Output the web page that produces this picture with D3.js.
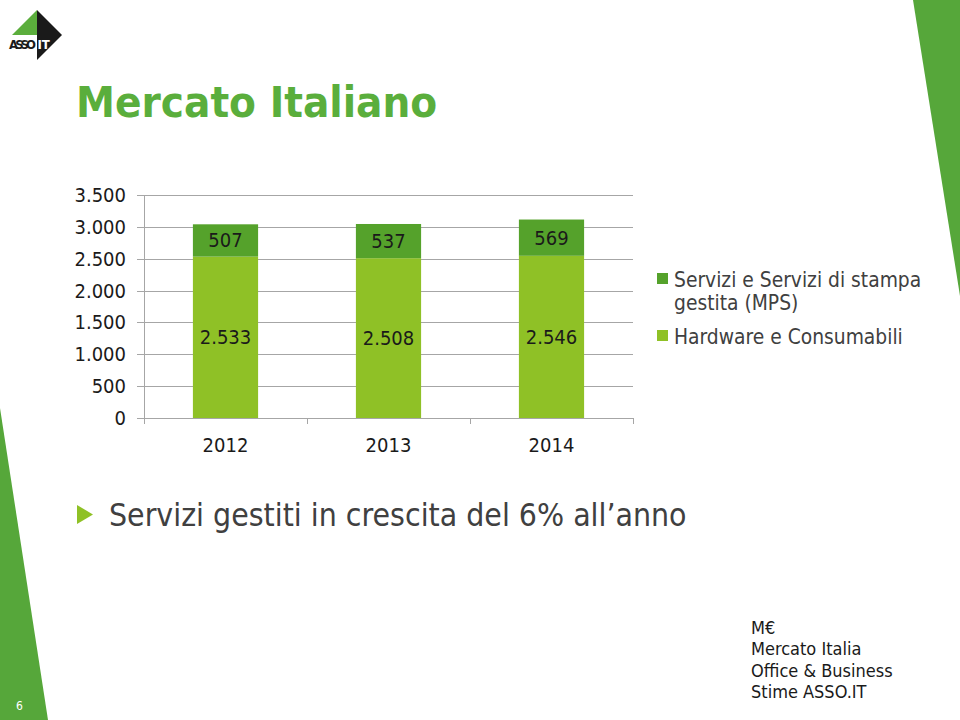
<!DOCTYPE html>
<html>
<head>
<meta charset="utf-8">
<script src="https://cdn.jsdelivr.net/npm/d3@7"></script>
<style>
  html, body { margin: 0; padding: 0; background: #fff; }
  svg { display: block; }
  text { font-family: "DejaVu Sans", sans-serif; font-stretch: condensed; }
</style>
</head>
<body>
<svg id="slide" width="960" height="720"></svg>
<script>
// ---- data ----
const years = ["2012", "2013", "2014"];
const hardware = [2533, 2508, 2546];   // Hardware e Consumabili
const services = [507, 537, 569];      // Servizi e Servizi di stampa gestita (MPS)
const yTicks = [0, 500, 1000, 1500, 2000, 2500, 3000, 3500];
const seriesNames = ["Servizi e Servizi di stampa gestita (MPS)", "Hardware e Consumabili"];
const footnote = ["M€", "Mercato Italia", "Office & Business", "Stime ASSO.IT"];

const colDark = "#55A22B";
const colLight = "#8FC126";
const green = "#5AAE3C";

const svg = d3.select("#slide");
const fmt = v => d3.format(",")(v).replace(/,/g, ".");

// ---- decorations ----
svg.append("polygon").attr("points", "913,0 960,0 960,296").attr("fill", "#56A73A");
svg.append("polygon").attr("points", "0,408 48,720 0,720").attr("fill", "#56A73A");
svg.append("text").attr("x", 16).attr("y", 710).attr("fill", "#fff")
  .style("font-size", "12px").text("6");

// logo
const logo = svg.append("g");
logo.append("polygon").attr("points", "12,35 37,10 37,35").attr("fill", "#5BAE3C");
logo.append("polygon").attr("points", "37,10 62,35 37,60").attr("fill", "#1a1a1a");
logo.append("text").attr("x", 9).attr("y", 49).attr("fill", "#1a1a1a")
  .style("font-size", "13px").style("font-weight", "bold").attr("textLength", 27).text("ASSO");
logo.append("text").attr("x", 37.5).attr("y", 49).attr("fill", "#fff")
  .style("font-size", "13px").style("font-weight", "bold").text("IT");

// title
svg.append("text").attr("x", 76).attr("y", 117).attr("fill", green)
  .style("font-size", "43.5px").style("font-weight", "bold").text("Mercato Italiano");

// ---- chart ----
const x = d3.scaleBand().domain(years).range([144, 633]).padding(0);
const y = d3.scaleLinear().domain([0, 3500]).range([418, 195]);
const barW = x.bandwidth() * 0.4;

const grid = svg.append("g");
grid.selectAll("line").data(yTicks).join("line")
  .attr("x1", 137).attr("x2", 633)
  .attr("y1", d => Math.round(y(d)) + 0.5).attr("y2", d => Math.round(y(d)) + 0.5)
  .attr("stroke", "#A6A6A6").attr("stroke-width", 1);

svg.append("line").attr("x1", 144.5).attr("x2", 144.5).attr("y1", 195).attr("y2", 424)
  .attr("stroke", "#A6A6A6");
const bounds = years.map(d => x(d)).concat([x(years[2]) + x.bandwidth()]);
svg.append("g").selectAll("line").data(bounds.slice(1)).join("line")
  .attr("x1", d => Math.round(d) + 0.5).attr("x2", d => Math.round(d) + 0.5)
  .attr("y1", 418).attr("y2", 424).attr("stroke", "#A6A6A6");

svg.append("g").selectAll("text").data(yTicks).join("text")
  .attr("x", 126).attr("y", d => y(d) + 7).attr("text-anchor", "end")
  .attr("fill", "#1a1a1a").style("font-size", "20px").text(d => fmt(d));

svg.append("g").selectAll("text").data(years).join("text")
  .attr("x", d => x(d) + x.bandwidth() / 2).attr("y", 452).attr("text-anchor", "middle")
  .attr("fill", "#1a1a1a").style("font-size", "20px").text(d => d);

const bars = svg.append("g");
years.forEach((yr, i) => {
  const cx = x(yr) + x.bandwidth() / 2;
  bars.append("rect").attr("x", cx - barW / 2).attr("width", barW)
    .attr("y", y(hardware[i])).attr("height", y(0) - y(hardware[i])).attr("fill", colLight);
  bars.append("rect").attr("x", cx - barW / 2).attr("width", barW)
    .attr("y", y(hardware[i] + services[i])).attr("height", y(0) - y(services[i])).attr("fill", colDark);
  bars.append("text").attr("x", cx).attr("y", y(hardware[i] / 2) + 7).attr("text-anchor", "middle")
    .attr("fill", "#1a1a1a").style("font-size", "20px").text(fmt(hardware[i]));
  bars.append("text").attr("x", cx).attr("y", y(hardware[i] + services[i] / 2) + 7).attr("text-anchor", "middle")
    .attr("fill", "#1a1a1a").style("font-size", "20px").text(fmt(services[i]));
});

// legend
const leg = svg.append("g");
leg.append("rect").attr("x", 657).attr("y", 273).attr("width", 11).attr("height", 11).attr("fill", colDark);
leg.append("text").attr("x", 674).attr("y", 287).attr("fill", "#404040").style("font-size", "20.8px").text("Servizi e Servizi di stampa");
leg.append("text").attr("x", 674).attr("y", 310).attr("fill", "#404040").style("font-size", "20.8px").text("gestita (MPS)");
leg.append("rect").attr("x", 657).attr("y", 330).attr("width", 11).attr("height", 11).attr("fill", colLight);
leg.append("text").attr("x", 674).attr("y", 344).attr("fill", "#404040").style("font-size", "20.8px").text(seriesNames[1]);

// bullet
svg.append("polygon").attr("points", "77,505 93,514.5 77,524").attr("fill", colLight);
svg.append("text").attr("x", 109).attr("y", 526).attr("fill", "#404040")
  .style("font-size", "31.7px").text("Servizi gestiti in crescita del 6% all’anno");

// footnote
svg.append("g").selectAll("text").data(footnote).join("text")
  .attr("x", 751).attr("y", (d, i) => 634 + i * 21.3).attr("fill", "#1a1a1a")
  .style("font-size", "18px").text(d => d);
</script>
</body>
</html>
